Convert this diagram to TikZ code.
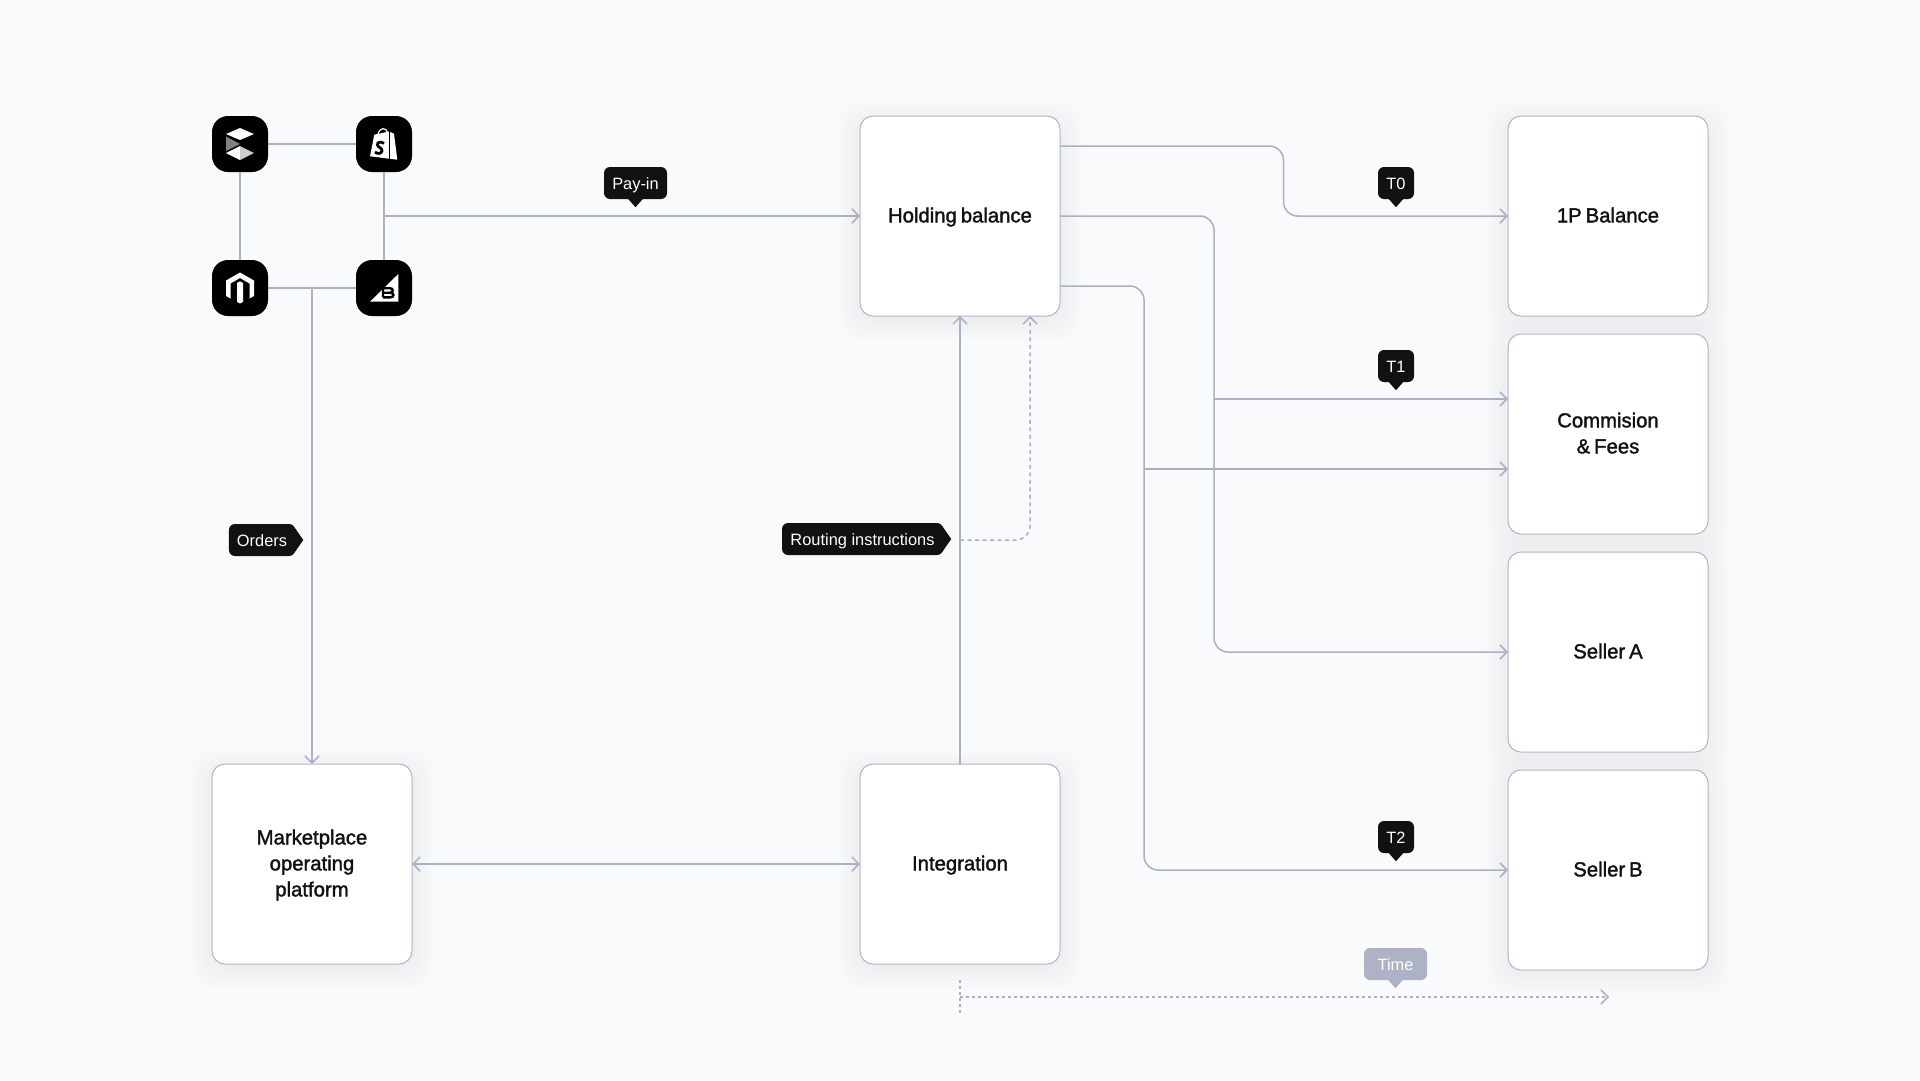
\documentclass[tikz,border=0pt]{standalone}
\usepackage{fontspec}
\setmainfont{Liberation Sans}
\newfontfamily\tilefont[FakeBold=1.6, WordSpace=0.7]{Liberation Sans}
\usepackage{xcolor}
\usetikzlibrary{positioning}
\usetikzlibrary{calc}
\usetikzlibrary{arrows.meta}
\pgfdeclarelayer{background}
\pgfsetlayers{background,main}
\definecolor{pagecolor}{RGB}{249, 250, 252}
\definecolor{linecolor}{RGB}{172, 176, 198}
\definecolor{edgecolor}{RGB}{178, 181, 200}
\definecolor{tagcolor}{RGB}{17, 17, 17}
\definecolor{timecolor}{RGB}{174, 178, 198}
\tikzstyle{tile} = [
	draw=edgecolor,
	line width=1pt,
	fill=white,
	rounded corners=13pt,
	minimum size=200pt,
	outer sep=0pt,
	align=center,
	text=tagcolor,
	text depth=2pt,
	font=\tilefont\fontsize{20.3}{26}\selectfont,
]
\tikzstyle{icon} = [
	fill=black,
	rounded corners=16pt,
	minimum size=56pt,
	outer sep=0pt,
]
\tikzstyle{wire} = [
	draw=linecolor,
	line width=1.5pt,
]
\tikzstyle{link} = [
	wire,
	-{Straight Barb[length=7pt,width=14pt]},
]
\tikzstyle{routed} = [
	link,
	rounded corners=14pt,
]
\tikzstyle{dashlink} = [
	link,
	dash pattern=on 4pt off 3.5pt,
]
\tikzstyle{tag} = [
	rectangle,
	text=white,
	rounded corners=6pt,
	minimum height=32pt,
	inner xsep=8pt,
	inner ysep=0pt,
	text height=13pt,
	text depth=0pt,
	font=\fontsize{16.4}{19}\selectfont,
]
\tikzset{
	tagdown/.style={
		tag,
		fill=#1,
		append after command={
			\pgfextra{
				\fill[#1] ([xshift=-8pt, yshift=1pt]\tikzlastnode.south) -- ([yshift=-8pt]\tikzlastnode.south) -- ([xshift=8pt, yshift=1pt]\tikzlastnode.south) -- cycle;
			}
		}
	},
	tagdown/.default=tagcolor,
	tagright/.style={
		tag,
		fill=tagcolor,
		append after command={
			\pgfextra{
				\fill[tagcolor] ([xshift=-1pt, yshift=13pt]\tikzlastnode.east) -- ([xshift=8pt]\tikzlastnode.east) -- ([xshift=-1pt, yshift=-13pt]\tikzlastnode.east) -- cycle;
			}
		}
	},
}

\begin{document}
\begin{tikzpicture}[x=1pt, y=-1pt, node distance=448pt and 448pt]

	\useasboundingbox (0,0) rectangle (1920,1080);

	%
	% Tiles
	\node[tile] at (312,864) (Marketplace) {Marketplace\\operating\\platform};
	\node[tile, right=of Marketplace] (Integration) {Integration};
	\node[tile, above=of Integration] (Holding) {Holding balance};
	\node[tile, right=of Holding] (OneP) {1P Balance};
	\node[tile, below=18pt of OneP] (Commission) {Commision\\\& Fees};
	\node[tile, below=18pt of Commission] (SellerA) {Seller A};
	\node[tile, below=18pt of SellerA] (SellerB) {Seller B};

	%
	% Soft shadows under the tiles
	\begin{pgfonlayer}{background}
		\fill[pagecolor] (0,0) rectangle (1920,1080);
		\foreach \name in {Marketplace,Integration,Holding,OneP,Commission,SellerA,SellerB} {
			\foreach \r in {1,3,...,23} {
				\fill[black, opacity=0.0035, rounded corners=22pt]
					([xshift=-\r pt, yshift=-\r pt-2pt]\name.south west) rectangle ([xshift=\r pt, yshift=\r pt-8pt]\name.north east);
			}
		}
	\end{pgfonlayer}

	%
	% Platform icons
	\node[icon] at (240,144) (Stack) {};
	\node[icon] at (384,144) (Shopify) {};
	\node[icon] at (240,288) (Magento) {};
	\node[icon] at (384,288) (BigCommerce) {};

	\begin{scope}[shift={(Stack.center)}]
		\fill[white] (-14,-10) -- (0,-16) -- (14,-10) -- (0,-4) -- cycle;
		\fill[black!50] (-14,-7.5) -- (0,0) -- (-14,7) -- cycle;
		\fill[white] (-14,9) -- (0,2) -- (0,16) -- cycle;
		\fill[black!20] (0,2) -- (14,9) -- (0,16) -- cycle;
	\end{scope}

	\begin{scope}[shift={(Shopify.center)}]
		\fill[white] (-14,12.3) -- (-9.7,-9.3) -- (5,-12.5) -- (10,-10.3) -- (13.3,15.7) -- cycle;
		\draw[white, line width=1.2pt] (-6,-10) .. controls (-4,-17) and (2,-17) .. (4,-11);
		\draw[black, line width=0.8pt] (5,-13) -- (5,16);
		\draw[black, line width=2.8pt] (0,-0.5) .. controls (-3,-3) and (-7,-2) .. (-6.5,1) .. controls (-6,3.5) and (-1.5,4) .. (-2,7) .. controls (-2.5,10) and (-7,10) .. (-9,8);
	\end{scope}

	\begin{scope}[shift={(Magento.center)}]
		\fill[white] (0,-15.5) -- (14,-7.5) -- (14,8) -- (9.5,10.5) -- (9.5,-4.5) -- (0,-10) -- (-9.5,-4.5) -- (-9.5,10.5) -- (-14,8) -- (-14,-7.5) -- cycle;
		\fill[white] (-3,-5) -- (0,-6.7) -- (3,-5) -- (3,13.8) -- (0,15.5) -- (-3,13.8) -- cycle;
	\end{scope}

	\begin{scope}[shift={(BigCommerce.center)}]
		\fill[white] (-14,13.7) -- (14.3,-14) -- (14.3,13.7) -- cycle;
		\draw[black, line width=2.4pt] (-1,9.4) -- (-1,0.2) -- (6,0.2) .. controls (9.6,0.2) and (9.6,4.7) .. (6,4.7) -- (-1,4.7) (6,4.7) .. controls (10.6,4.7) and (10.6,9.4) .. (6,9.4) -- (-1,9.4);
	\end{scope}

	%
	% Junctions
	\coordinate (PayinStart) at ($(Shopify)!0.5!(BigCommerce)$);
	\coordinate (OrdersStart) at ($(Magento)!0.5!(BigCommerce)$);
	\coordinate (RoutingStart) at (960,540);
	\coordinate (BusOne) at ([xshift=154pt]Holding.east);
	\coordinate (BusTwo) at ([xshift=84pt]Holding.east);
	\coordinate (FeesIn) at ([yshift=35pt]Commission.west);
	\coordinate (ShareIn) at ([yshift=-35pt]Commission.west);
	\coordinate (TimeStart) at ([yshift=-33pt]Integration.south);
	\coordinate (TimeEnd) at ([xshift=1pt]TimeStart -| SellerB.south);
	\coordinate (TickTop) at ([yshift=-16pt]Integration.south);
	\coordinate (TickEnd) at ([yshift=-49pt]Integration.south);

	%
	% Lines between the icons
	\draw[wire] (Stack) -- (Shopify);
	\draw[wire] (Stack) -- (Magento);
	\draw[wire] (Magento) -- (BigCommerce);
	\draw[wire] (Shopify) -- (BigCommerce);

	%
	% Arrows
	\draw[link] (PayinStart) -- (Holding.west);
	\draw[link] (OrdersStart) -- (Marketplace.north);
	\draw[link, {Straight Barb[length=7pt,width=14pt]}-{Straight Barb[length=7pt,width=14pt]}] (Marketplace.east) -- (Integration.west);
	\draw[link] (Integration.north) -- (Holding.south);
	\draw[dashlink, rounded corners=14pt] (RoutingStart) -| ([xshift=70pt]Holding.south);

	% Holding balance to the accounts
	\draw[routed] ([yshift=70pt]Holding.east) -- ++(223.5,0) |- (OneP.west);
	\draw[routed] (Holding.east) -- (BusOne) |- (SellerA.west);
	\draw[routed] ([yshift=-70pt]Holding.east) -- ++(84,0) |- (SellerB.west);
	\draw[link] (FeesIn -| BusOne) -- (FeesIn);
	\draw[link] (ShareIn -| BusTwo) -- (ShareIn);

	% Time axis
	\draw[dashlink, dash pattern=on 3pt off 3pt] (TimeStart) -- (TimeEnd);
	\draw[wire, dash pattern=on 3pt off 3pt] (TickTop) -- (TickEnd);

	%
	% Tags
	\node[tagdown, minimum width=63pt] at (635.5,183) (Payin) {Pay-in};
	\node[tagdown, minimum width=36pt, inner xsep=4pt] at (1396,183) (TZero) {T0};
	\node[tagdown, minimum width=36pt, inner xsep=4pt] at (1396,366) (TOne) {T1};
	\node[tagdown, minimum width=36pt, inner xsep=4pt] at (1396,837) (TTwo) {T2};
	\node[tagdown=timecolor, minimum width=63pt] at (1395.5,964) (Time) {Time};
	\node[tagright, minimum width=66pt] at (262,540) (Orders) {Orders};
	\node[tagright, minimum width=161pt] at (862.5,539) (Routing) {Routing instructions};

\end{tikzpicture}
\end{document}
